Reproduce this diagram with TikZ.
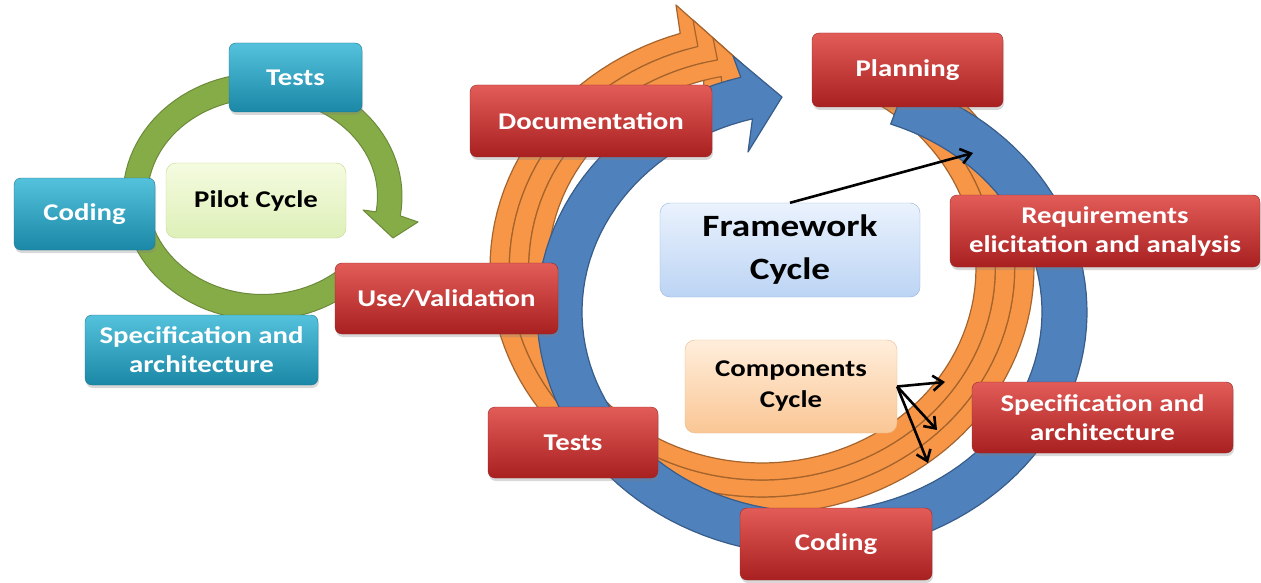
\documentclass[tikz,border=0pt]{standalone}
\usepackage{fontspec}
\setmainfont{Carlito}[FakeStretch=1.2]
\usetikzlibrary{arrows.meta,shadows}
\definecolor{obl}{RGB}{79,129,189}
\definecolor{oblD}{RGB}{56,93,138}
\definecolor{oor}{RGB}{247,150,70}
\definecolor{oorD}{RGB}{165,100,45}
\definecolor{ogr}{RGB}{134,172,72}
\definecolor{ogrD}{RGB}{108,138,58}
\definecolor{redT}{RGB}{226,92,88}
\definecolor{redB}{RGB}{168,32,32}
\definecolor{redD}{RGB}{150,40,38}
\definecolor{tealT}{RGB}{84,194,220}
\definecolor{tealB}{RGB}{26,136,166}
\definecolor{tealD}{RGB}{30,118,145}
\definecolor{fwT}{RGB}{234,242,253}
\definecolor{fwB}{RGB}{188,212,244}
\definecolor{fwD}{RGB}{150,180,222}
\definecolor{ccT}{RGB}{255,238,220}
\definecolor{ccB}{RGB}{250,198,148}
\definecolor{ccD}{RGB}{236,186,136}
\definecolor{plT}{RGB}{245,251,224}
\definecolor{plB}{RGB}{222,240,184}
\definecolor{plD}{RGB}{196,218,150}
\begin{document}
\begin{tikzpicture}[x=1pt,y=-1pt,
  box/.style={rounded corners=7pt, inner sep=0pt, align=center,
    font=\bfseries\fontsize{24}{29}\selectfont,
    drop shadow={opacity=0.3, shadow xshift=1pt, shadow yshift=-3pt}},
  redbox/.style={box, top color=redT, bottom color=redB, draw=redD, text=white},
  tealbox/.style={box, top color=tealT, bottom color=tealB, draw=tealD, text=white},
  softbox/.style={rounded corners=10pt, inner sep=0pt, align=center, text=black},
  strip/.style={fill=oor, draw=oorD, line width=1.2pt, line join=round},
  bluearr/.style={fill=obl, draw=oblD, line width=1.2pt, line join=round},
  greenarr/.style={fill=ogr, draw=ogrD, line width=1pt, line join=round},
  blk/.style={line width=2.6pt, -{Straight Barb[length=10pt,width=15pt,line width=2.6pt]}}
]
\fill[white] (0,0) rectangle (1261,583);
\useasboundingbox (0,0) rectangle (1261,583);

% ---------- pilot cycle (green arrow) ----------
\path[greenarr] plot[domain=45:369, samples=100, variable=\t] ({262.5+139.5*cos(\t)},{196.5+123.5*sin(\t)})
  -- (418,222) -- (393,238) -- (363,210)
  -- plot[domain=369:45, samples=100, variable=\t] ({262.5+115*cos(\t)},{196.5+98*sin(\t)}) -- cycle;

\node[tealbox, minimum width=133pt, minimum height=69pt] (ltests) at (295.5,77.5) {Tests};
\node[tealbox, minimum width=141pt, minimum height=72pt] (lcoding) at (84.5,214) {Coding};
\node[tealbox, minimum width=233pt, minimum height=70pt] (lspec) at (201.5,350) {Specification and\\architecture};
\node[softbox, top color=plT, bottom color=plB, draw=plD, minimum width=180pt, minimum height=75pt,
  font=\bfseries\fontsize{24}{29}\selectfont] (pilot) at (256,200.5) {Pilot Cycle};

% ---------- components cycle (orange strips) ----------
\path[strip] plot[domain=-68:252.5, samples=120, variable=\t] ({762+272*cos(\t)},{268+246*sin(\t)})
  -- (676,5) -- (760,80) -- (685,68)
  -- plot[domain=252.5:-68, samples=120, variable=\t] ({762+252.7*cos(\t)},{268+229*sin(\t)}) -- cycle;
\path[strip] plot[domain=-68:255.3, samples=120, variable=\t] ({762+252.7*cos(\t)},{268+229*sin(\t)})
  -- (693,20) -- (760,80) -- (704,88)
  -- plot[domain=255.3:-68, samples=120, variable=\t] ({762+233.3*cos(\t)},{268+212*sin(\t)}) -- cycle;
\path[strip] plot[domain=-68:259, samples=120, variable=\t] ({762+233.3*cos(\t)},{268+212*sin(\t)})
  -- (713,38) -- (760,80) -- (724,105)
  -- plot[domain=259:-68, samples=120, variable=\t] ({762+214*cos(\t)},{268+195*sin(\t)}) -- cycle;

% ---------- framework cycle (blue arrow) ----------
\path[bluearr] plot[domain=-70:255, samples=120, variable=\t] ({812+275*cos(\t)},{312+243*sin(\t)})
  -- (733,56) -- (782,97) -- (748,152)
  -- plot[domain=255:-70, samples=120, variable=\t] ({812+230*cos(\t)},{312+200*sin(\t)}) -- cycle;

% ---------- red boxes ----------
\node[redbox, minimum width=242pt, minimum height=72pt] (doc) at (591,121) {Documentation};
\node[redbox, minimum width=191pt, minimum height=74pt] (plan) at (907.5,70) {Planning};
\node[redbox, minimum width=310pt, minimum height=72pt] (req) at (1105,231) {Requirements\\elicitation and analysis};
\node[redbox, minimum width=223pt, minimum height=71pt] (use) at (446.5,298.5) {Use/Validation};
\node[redbox, minimum width=170pt, minimum height=71pt] (rtests) at (573,442.5) {Tests};
\node[redbox, minimum width=192pt, minimum height=72pt] (rcoding) at (836,544) {Coding};
\node[redbox, minimum width=261pt, minimum height=71pt] (rspec) at (1102.5,417.5) {Specification and\\architecture};

% ---------- central boxes ----------
\node[softbox, top color=fwT, bottom color=fwB, draw=fwD, minimum width=260pt, minimum height=94pt,
  font=\bfseries\fontsize{31}{43}\selectfont] (fw) at (790,250) {Framework\\Cycle};
\node[softbox, top color=ccT, bottom color=ccB, draw=ccD, minimum width=212pt, minimum height=93pt,
  font=\bfseries\fontsize{24}{31}\selectfont] (cc) at (791,386.5) {Components\\Cycle};

% ---------- pointers ----------
\coordinate (fwtip) at (973,153);
\coordinate (c1) at (945,382);
\coordinate (c2) at (937,430);
\coordinate (c3) at (928,463);
\draw[blk] (fw.north) -- (fwtip);
\draw[blk] (cc.east) -- (c1);
\draw[blk] (cc.east) -- (c2);
\draw[blk] (cc.east) -- (c3);
\end{tikzpicture}
\end{document}
